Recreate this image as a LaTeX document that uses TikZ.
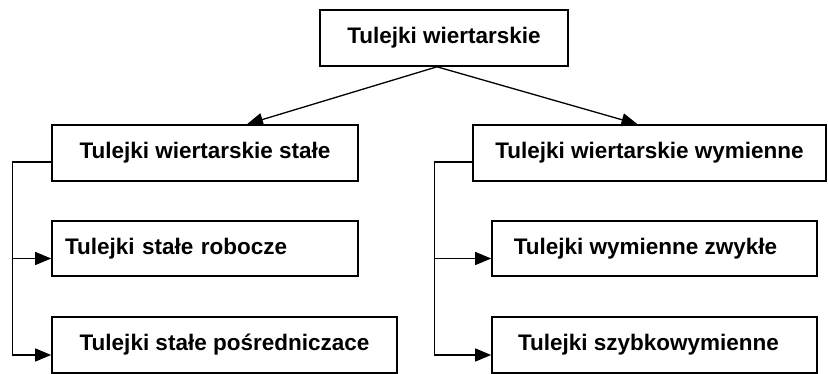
\documentclass[tikz,border=0pt]{standalone}
\usepackage{fontspec}
\setmainfont{Liberation Sans}
\usepackage{tikz}
\usetikzlibrary{shapes.geometric, arrows, arrows.meta}
\tikzstyle{group} = [rectangle, minimum height=56pt, inner sep=0pt, text centered, draw=black, line width=1.6pt, fill=white, font=\fontsize{22.5}{27}\selectfont\bfseries]
\tikzstyle{line} = [line width=1.3pt]
\tikzstyle{arrow} = [line width=1.3pt,->,>={Triangle[length=16pt,width=13pt]}]

\begin{document}
\begin{tikzpicture}[x=1pt, y=-1pt]
						\useasboundingbox (0,0) rectangle (828,374);
						\node (tw) [group, minimum width=248pt] at (444,38) {Tulejki wiertarskie};
						\node (ts) [group, minimum width=306pt] at (205,153) {Tulejki wiertarskie stałe};
						\node (tsr) [group, minimum width=306pt, minimum height=55pt, text width=280pt, align=left, inner xsep=13pt] at (205,248.5) {Tulejki stałe robocze};
						\node (tsp) [group, minimum width=345pt] at (224.5,345) {Tulejki stałe pośredniczace};
						\node (twy) [group, minimum width=353pt] at (649.5,153) {Tulejki wiertarskie wymienne};
						\node (twz) [group, minimum width=325pt, minimum height=55pt] at (654.5,248.5) {\hspace{-18pt}Tulejki wymienne zwykłe};
						\node (tsz) [group, minimum width=325pt] at (654.5,345) {\hspace{-12pt}Tulejki szybkowymienne};
						\draw [arrow] ([xshift=-7pt]tw.south) -- ([xshift=42pt]ts.north);
						\draw [arrow] ([xshift=-7pt]tw.south) -- ([xshift=-12pt]twy.north);
						\draw [line] ([yshift=-9pt]ts.west) -- ++(-39,0) |- ([xshift=-39pt,yshift=-10pt]tsp.west);
						\draw [arrow] ([xshift=-39pt,yshift=-10pt]tsr.west) -- ([yshift=-10pt]tsr.west);
						\draw [arrow] ([xshift=-39pt,yshift=-10pt]tsp.west) -- ([yshift=-10pt]tsp.west);
						\draw [line] ([yshift=-9pt]twy.west) -- ++(-38,0) |- ([xshift=-57pt,yshift=-10pt]tsz.west);
						\draw [arrow] ([xshift=-57pt,yshift=-10pt]twz.west) -- ([yshift=-10pt]twz.west);
						\draw [arrow] ([xshift=-57pt,yshift=-10pt]tsz.west) -- ([yshift=-10pt]tsz.west);
					\end{tikzpicture}
\end{document}
